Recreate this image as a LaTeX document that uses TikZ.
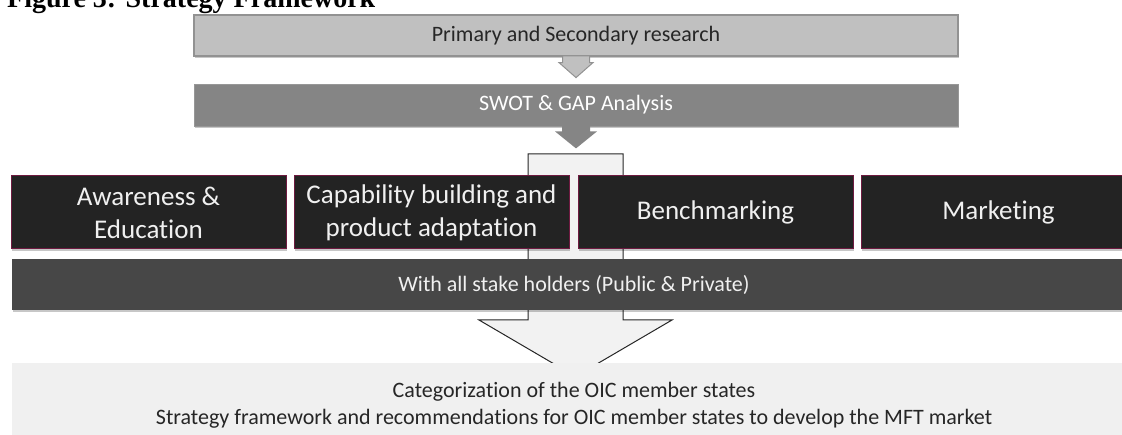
\documentclass[tikz,border=0pt]{standalone}
\usepackage{fontspec}
\setmainfont{Carlito}[Ligatures=NoCommon]
\newfontfamily\titlefont{Liberation Serif}
\usetikzlibrary{calc,shadows}
\definecolor{lightbox}{HTML}{C0C0C0}
\definecolor{lightline}{HTML}{929292}
\definecolor{midbox}{HTML}{858585}
\definecolor{darkbox}{HTML}{232323}
\definecolor{darkline}{HTML}{6E1A40}
\definecolor{barfill}{HTML}{474747}
\definecolor{palefill}{HTML}{F0F0F0}
\definecolor{bigfill}{HTML}{F2F2F2}
\definecolor{textdark}{HTML}{262626}
\tikzset{
  softshadow/.style={drop shadow={shadow xshift=0.8pt, shadow yshift=-1.8pt, opacity=0.22, fill=black}},
  basebox/.style={rectangle, inner sep=0pt, align=center},
  topbox/.style={basebox, fill=lightbox, draw=lightline, line width=1.2pt, softshadow,
    minimum width=764pt, minimum height=41pt, text=textdark, font=\fontsize{22}{27}\selectfont},
  swotbox/.style={basebox, fill=midbox, draw=midbox!85!white, line width=0.8pt, softshadow,
    minimum width=764pt, minimum height=42pt, text=white, font=\fontsize{22}{27}\selectfont},
  stepbox/.style={basebox, fill=darkbox, draw=darkline, line width=1pt, softshadow,
    minimum width=275pt, minimum height=73pt, text=white!94!black, font=\fontsize{27}{33}\selectfont},
  barbox/.style={basebox, fill=barfill, softshadow,
    minimum width=1124pt, minimum height=51pt, text=white!94!black, font=\fontsize{22}{27}\selectfont},
  resultbox/.style={basebox, fill=palefill,
    minimum width=1124pt, minimum height=84pt, text=textdark, font=\fontsize{22}{27}\selectfont},
  smallarrow/.style={fill=lightbox, draw=lightline, line width=1pt, line join=miter},
  midarrow/.style={fill=midbox, draw=none},
  bigarrow/.style={fill=bigfill, draw=textdark, line width=1pt, line join=miter},
}
\begin{document}
\begin{tikzpicture}[x=1pt,y=-1pt]
\clip (0,0) rectangle (1122,435);
\fill[white] (0,0) rectangle (1122,435);

\node[anchor=base west, inner sep=0pt, font=\titlefont\bfseries\fontsize{28}{30}\selectfont] (title) at (7,8) {Figure 3: Strategy Framework};

\node[topbox] (b1) at (576,35.5) {Primary and Secondary research};
\node[swotbox] (b2) at (576,105) {SWOT \& GAP Analysis};

% small arrow from research to SWOT
\coordinate (a1) at (b1.south);
\draw[smallarrow] ($(a1)+(-13.5,-0.6)$) -- ($(a1)+(13.5,-0.6)$) -- ($(a1)+(13.5,6)$) -- ($(a1)+(17,6)$)
  -- ($(a1)+(0,21)$) -- ($(a1)+(-17,6)$) -- ($(a1)+(-13.5,6)$) -- cycle;

% arrow from SWOT down
\coordinate (a2) at (b2.south);
\fill[midarrow] ($(a2)+(-14,-0.5)$) -- ($(a2)+(14,-0.5)$) -- ($(a2)+(14,5)$) -- ($(a2)+(21,5)$)
  -- ($(a2)+(0,22)$) -- ($(a2)+(-21,5)$) -- ($(a2)+(-14,5)$) -- cycle;

% big block arrow behind the strategy blocks
\coordinate (ba) at (575.5,154);
\draw[bigarrow] ($(ba)+(-47.5,0)$) -- ($(ba)+(47.5,0)$) -- ($(ba)+(47.5,166)$) -- ($(ba)+(96.5,166)$)
  -- ($(ba)+(0,222.5)$) -- ($(ba)+(-96.5,166)$) -- ($(ba)+(-47.5,166)$) -- cycle;

\node[stepbox] (aware) at (148.5,212.5) {Awareness \&\\Education};
\node[stepbox] (capab) at (431.5,212.5) {Capability building and\\product adaptation};
\node[stepbox] (bench) at (715.5,212.5) {Benchmarking};
\node[stepbox] (market) at (998.5,212.5) {Marketing};

\node[barbox] (stake) at (574,284.5) {With all stake holders (Public \& Private)};

\node[resultbox] (result) at (574,405) {Categorization of the OIC member states\\Strategy framework and recommendations for OIC member states to develop the MFT market};
\end{tikzpicture}
\end{document}
